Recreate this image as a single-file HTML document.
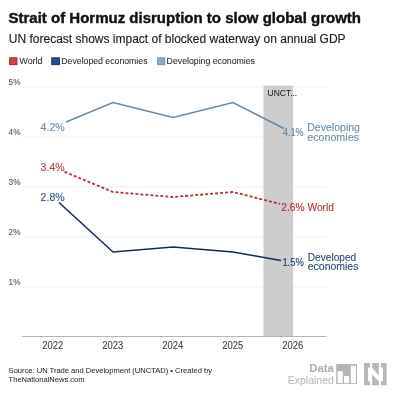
<!DOCTYPE html>
<html><head><meta charset="utf-8">
<style>
html,body{margin:0;padding:0;background:#fff;width:400px;height:400px;overflow:hidden}
svg{display:block;will-change:transform}
text{font-family:"Liberation Sans",sans-serif}
</style></head>
<body>
<svg width="400" height="400" viewBox="0 0 400 400">
<rect width="400" height="400" fill="#fff"/>
<!-- title -->
<text x="8.5" y="23.3" font-size="15" font-weight="bold" fill="#111" stroke="#111" stroke-width="0.4">Strait of Hormuz disruption to slow global growth</text>
<text x="8.8" y="42.7" font-size="12" fill="#1e1e1e" stroke="#1e1e1e" stroke-width="0.15">UN forecast shows impact of blocked waterway on annual GDP</text>
<!-- legend -->
<rect x="9.6" y="57.8" width="7.4" height="6.9" fill="#cc4546" stroke="#a52628" stroke-width="0.9"/>
<text x="19.6" y="64.4" font-size="9" fill="#2e2e2e" textLength="22.8" lengthAdjust="spacingAndGlyphs" stroke="#2e2e2e" stroke-width="0.08">World</text>
<rect x="51.7" y="57.8" width="7.8" height="6.9" fill="#1f5485" stroke="#0e2d5a" stroke-width="0.9"/>
<text x="61.3" y="64.4" font-size="9" fill="#2e2e2e" textLength="86.2" lengthAdjust="spacingAndGlyphs" stroke="#2e2e2e" stroke-width="0.08">Developed economies</text>
<rect x="157.6" y="57.8" width="7.2" height="6.9" fill="#86acc8" stroke="#6f94b0" stroke-width="0.9"/>
<text x="166.6" y="64.4" font-size="9" fill="#2e2e2e" textLength="88.4" lengthAdjust="spacingAndGlyphs" stroke="#2e2e2e" stroke-width="0.08">Developing economies</text>
<!-- gridlines -->
<g stroke="#efefef" stroke-width="1">
<line x1="23" y1="87" x2="326" y2="87"/>
<line x1="23" y1="137" x2="264" y2="137"/>
<line x1="23" y1="187" x2="326" y2="187"/>
<line x1="23" y1="237" x2="326" y2="237"/>
<line x1="23" y1="287" x2="326" y2="287"/>
</g>
<g font-size="8.4" fill="#595959" stroke="#595959" stroke-width="0.1">
<text x="8.6" y="85.1" textLength="11.8" lengthAdjust="spacingAndGlyphs">5%</text>
<text x="8.6" y="135.1" textLength="11.8" lengthAdjust="spacingAndGlyphs">4%</text>
<text x="8.6" y="185.1" textLength="11.8" lengthAdjust="spacingAndGlyphs">3%</text>
<text x="8.6" y="235.1" textLength="11.8" lengthAdjust="spacingAndGlyphs">2%</text>
<text x="8.6" y="285.1" textLength="11.8" lengthAdjust="spacingAndGlyphs">1%</text>
</g>
<!-- band -->
<rect x="263.5" y="85.6" width="29.6" height="250.9" fill="#cdcdcd"/>
<text x="267.6" y="96.3" font-size="9.4" fill="#222" textLength="29.6" lengthAdjust="spacingAndGlyphs" stroke="#222" stroke-width="0.05">UNCT...</text>
<!-- axis -->
<line x1="22" y1="336.5" x2="326" y2="336.5" stroke="#b4b4b4" stroke-width="1"/>
<g stroke="#dcdcdc" stroke-width="1">
<line x1="53" y1="337" x2="53" y2="340"/>
<line x1="113" y1="337" x2="113" y2="340"/>
<line x1="173" y1="337" x2="173" y2="340"/>
<line x1="233" y1="337" x2="233" y2="340"/>
<line x1="293" y1="337" x2="293" y2="340"/>
</g>
<g font-size="10" fill="#444" stroke="#444" stroke-width="0.1">
<text x="42.2" y="348.5" textLength="21" lengthAdjust="spacingAndGlyphs">2022</text>
<text x="102.2" y="348.5" textLength="21" lengthAdjust="spacingAndGlyphs">2023</text>
<text x="162.2" y="348.5" textLength="21" lengthAdjust="spacingAndGlyphs">2024</text>
<text x="222.2" y="348.5" textLength="21" lengthAdjust="spacingAndGlyphs">2025</text>
<text x="282.2" y="348.5" textLength="21" lengthAdjust="spacingAndGlyphs">2026</text>
</g>
<!-- lines -->
<polyline points="66,122 113,102.5 173,117.5 233,102.5 284,128.5" fill="none" stroke="#6689a4" stroke-width="1.45"/>
<polyline points="64.5,171.8 113,192 173,197 233,192 280,204" fill="none" stroke="#b3323a" stroke-width="1.8" stroke-dasharray="3,2"/>
<polyline points="59,202.5 113,252 173,247 233,252 281,260.5" fill="none" stroke="#13295a" stroke-width="1.5"/>
<!-- labels -->
<g font-size="11.2">
<text x="40.6" y="131.2" fill="#6c8ea8" textLength="24.2" lengthAdjust="spacingAndGlyphs" stroke="#6c8ea8" stroke-width="0.12">4.2%</text>
<text x="40.6" y="171" fill="#bf3e46" textLength="24" lengthAdjust="spacingAndGlyphs" stroke="#bf3e46" stroke-width="0.12">3.4%</text>
<text x="40.6" y="200.6" fill="#34527a" textLength="24" lengthAdjust="spacingAndGlyphs" stroke="#34527a" stroke-width="0.12">2.8%</text>
<text x="283" y="136" fill="#62839d" font-size="10.3" textLength="20.6" lengthAdjust="spacingAndGlyphs" stroke="#62839d" stroke-width="0.12">4.1%</text>
<text x="307.2" y="131" fill="#6c8ea8" textLength="52.8" lengthAdjust="spacingAndGlyphs" stroke="#6c8ea8" stroke-width="0.12">Developing</text>
<text x="307.2" y="141.4" fill="#6c8ea8" textLength="51.8" lengthAdjust="spacingAndGlyphs" stroke="#6c8ea8" stroke-width="0.12">economies</text>
<text x="281.2" y="211.1" fill="#b03237" textLength="52.8" lengthAdjust="spacingAndGlyphs" stroke="#b03237" stroke-width="0.12">2.6% World</text>
<text x="282.4" y="265.7" fill="#223e6b" font-size="10.3" textLength="21.4" lengthAdjust="spacingAndGlyphs" stroke="#223e6b" stroke-width="0.12">1.5%</text>
<text x="307.8" y="260.8" fill="#2a4a78" textLength="48.4" lengthAdjust="spacingAndGlyphs" stroke="#2a4a78" stroke-width="0.12">Developed</text>
<text x="307.8" y="270.2" fill="#2a4a78" textLength="50.6" lengthAdjust="spacingAndGlyphs" stroke="#2a4a78" stroke-width="0.12">economies</text>
</g>
<!-- source -->
<g font-size="7.55" fill="#2a2a2a" stroke="#2a2a2a" stroke-width="0.04">
<text x="8.6" y="373.2">Source: UN Trade and Development (UNCTAD) • Created by</text>
<text x="8.6" y="382.2">TheNationalNews.com</text>
</g>
<!-- logo -->
<text x="309.3" y="372" font-size="10" font-weight="bold" fill="#b0b0b0" textLength="24.4" lengthAdjust="spacingAndGlyphs" stroke="#b0b0b0" stroke-width="0.1">Data</text>
<text x="287.8" y="384" font-size="10.2" fill="#b8b8b8" textLength="46" lengthAdjust="spacingAndGlyphs" stroke="#b8b8b8" stroke-width="0.05">Explained</text>
<rect x="336.2" y="364" width="20.8" height="20" fill="#b4b4b4"/>
<rect x="337.6" y="371.2" width="5.2" height="12" fill="#fff"/>
<rect x="344" y="376" width="5.2" height="7.2" fill="#fff"/>
<rect x="350.8" y="365.8" width="5.2" height="17.4" fill="#fff"/>
<g transform="translate(364,363) scale(0.0675)">
<rect x="0" y="0" width="335" height="330" fill="#b8b8b8"/>
<path d="M60 65H90V0H120V330H90V270H60Z M220 0H250V65H280V270H250V330H220Z M120 70L220 185V270L120 170Z" fill="#fff"/>
</g>
</svg>
</body></html>
